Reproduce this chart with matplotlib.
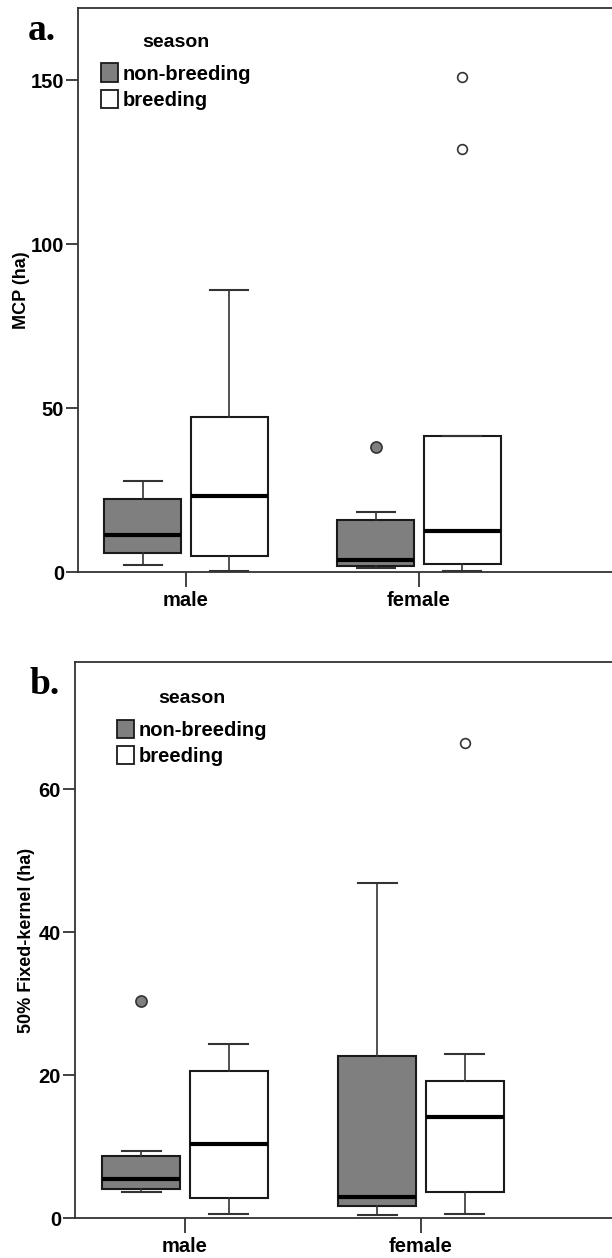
import matplotlib
matplotlib.use("Agg")
import matplotlib.pyplot as plt
from matplotlib.patches import Patch

plt.rcParams['font.family'] = ['Liberation Sans Narrow', 'Liberation Sans', 'DejaVu Sans']
plt.rcParams['font.weight'] = 'bold'

categories = ["male", "female"]
seasons = ["non-breeding", "breeding"]

# Panel a: MCP (ha) -- [q1, median, q3, whislo, whishi]
mcp_male_nb = [5.9, 11.2, 22.3, 2.2, 27.7]
mcp_male_b = [4.9, 23.2, 47.2, 0.4, 86.1]
mcp_female_nb = [1.9, 3.8, 15.9, 1.2, 18.4]
mcp_female_b = [2.5, 12.5, 41.6, 0.4, 41.6]
mcp_fliers_male_nb = []
mcp_fliers_male_b = []
mcp_fliers_female_nb = [38.0]
mcp_fliers_female_b = [151.1, 129.0]

# Panel b: 50% Fixed-kernel (ha)
fk_male_nb = [4.0, 5.4, 8.7, 3.6, 9.4]
fk_male_b = [2.8, 10.4, 20.6, 0.5, 24.3]
fk_female_nb = [1.7, 2.9, 22.7, 0.4, 46.9]
fk_female_b = [3.6, 14.1, 19.2, 0.6, 23.0]
fk_fliers_male_nb = [30.4]
fk_fliers_male_b = []
fk_fliers_female_nb = []
fk_fliers_female_b = [66.4]

yticks_a = [0, 50, 100, 150]
yticks_b = [0, 20, 40, 60]

colors = {"non-breeding": "#7f7f7f", "breeding": "#ffffff"}


def stat(v, fl):
    return dict(q1=v[0], med=v[1], q3=v[2], whislo=v[3], whishi=v[4], fliers=fl)


def draw(ax, data, fliers, yticks, ylim, xlim, ylabel, ylabelsize, labelx):
    offsets = [-0.185, 0.185]
    for si, season in enumerate(seasons):
        stats = [stat(data[ci][si], fliers[ci][si]) for ci in range(len(categories))]
        pos = [ci + offsets[si] for ci in range(len(categories))]
        filled = season == "non-breeding"
        ax.bxp(stats, positions=pos, widths=0.33, patch_artist=True,
               showfliers=True, manage_ticks=False,
               boxprops=dict(facecolor=colors[season], edgecolor="#1a1a1a", linewidth=1.5),
               medianprops=dict(color="black", linewidth=3),
               whiskerprops=dict(color="#333333", linewidth=1.2),
               capprops=dict(color="#333333", linewidth=1.5),
               capwidths=0.165,
               flierprops=dict(marker="o", markersize=8 if filled else 7,
                               markerfacecolor="#7f7f7f" if filled else "white",
                               markeredgecolor="#333333", markeredgewidth=1.2,
                               linestyle="none"))
    ax.set_xlim(*xlim)
    ax.set_ylim(*ylim)
    ax.set_xticks(range(len(categories)))
    ax.set_xticklabels(categories)
    ax.set_yticks(yticks)
    ax.set_yticklabels([str(t) for t in yticks])
    ax.tick_params(axis="y", direction="out", length=8.5, width=1.3, pad=1.5,
                   labelsize=14.5, color="#333333")
    ax.tick_params(axis="x", direction="out", length=10.5, width=1.3, pad=3,
                   labelsize=14.5, color="#333333")
    for sp in ["left", "bottom", "top"]:
        ax.spines[sp].set_color("#333333")
        ax.spines[sp].set_linewidth(1.3)
    ax.spines["right"].set_visible(False)
    ax.set_ylabel(ylabel, fontsize=ylabelsize, fontweight="bold")
    ax.yaxis.set_label_coords(labelx, 0.5)


fig = plt.figure(figsize=(6.12, 12.58), dpi=100)

ax1 = fig.add_axes([78 / 612, (1258 - 572) / 1258, (612 - 78) / 612, 564 / 1258])
draw(ax1,
     [[mcp_male_nb, mcp_male_b], [mcp_female_nb, mcp_female_b]],
     [[mcp_fliers_male_nb, mcp_fliers_male_b], [mcp_fliers_female_nb, mcp_fliers_female_b]],
     yticks_a, (0, 172), (-0.4635, 1.828), "MCP (ha)", 13, -0.09)

ax2 = fig.add_axes([75 / 612, 40 / 1258, (612 - 75) / 612, 556 / 1258])
draw(ax2,
     [[fk_male_nb, fk_male_b], [fk_female_nb, fk_female_b]],
     [[fk_fliers_male_nb, fk_fliers_male_b], [fk_fliers_female_nb, fk_fliers_female_b]],
     yticks_b, (0, 77.8), (-0.466, 1.809), "50% Fixed-kernel (ha)", 13, -0.074)

handles = [Patch(facecolor=colors[s], edgecolor="#1a1a1a", linewidth=1.3, label=s) for s in seasons]
for ax, anchor in [(ax1, (0.0425, 0.954)), (ax2, (0.0775, 0.949))]:
    leg = ax.legend(handles=handles, title="season", loc="upper left", bbox_to_anchor=anchor,
                    frameon=False, fontsize=14.5, title_fontsize=14, handlelength=0.88,
                    handleheight=1.03, handletextpad=0.2, labelspacing=0.3, borderpad=0,
                    borderaxespad=0)
    leg.get_title().set_fontweight("bold")
    leg._legend_box.sep = 9

fig.text(28 / 612, 1 - 40 / 1258, "a.", fontsize=27, fontweight="bold",
         family=["Liberation Serif", "DejaVu Serif"], ha="left", va="baseline")
fig.text(29 / 612, 1 - 694 / 1258, "b.", fontsize=27, fontweight="bold",
         family=["Liberation Serif", "DejaVu Serif"], ha="left", va="baseline")

fig.savefig("out.png", dpi=100)
